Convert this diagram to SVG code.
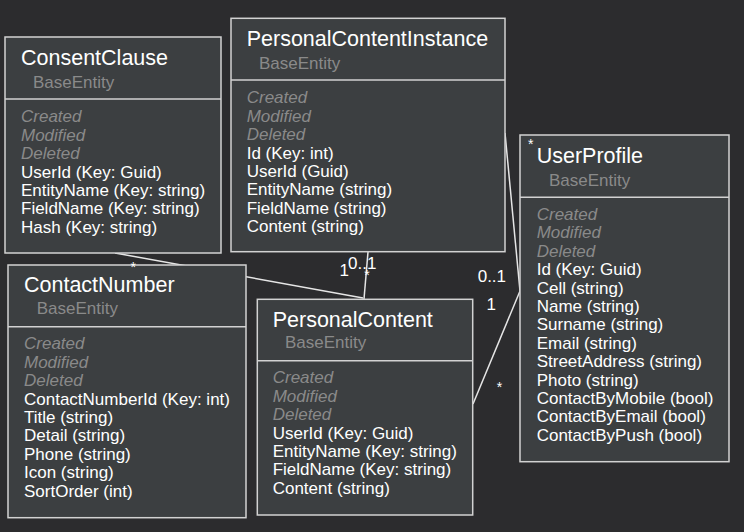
<svg xmlns="http://www.w3.org/2000/svg" width="744" height="532" viewBox="0 0 744 532">
<style>
.bg{fill:#2c2c2e}
.box{fill:#3c3f41;stroke:#d2d2d2;stroke-width:1.5}
.div{stroke:#d2d2d2;stroke-width:1.5}
text{font-family:"Liberation Sans",Arial,Helvetica,sans-serif}
.title{fill:#ffffff;font-size:21.5px}
.base{fill:#8a8a8a;font-size:17px}
.meta{fill:#8a8a8a;font-size:17px;font-style:italic}
.attr{fill:#ffffff;font-size:17px}
.lbl{fill:#ffffff;font-size:17px}
.star{fill:#ffffff;font-size:14px;text-anchor:middle}
.conn{stroke:#e6e6e6;stroke-width:1.5;fill:none}
</style>
<rect class="bg" x="0" y="0" width="744" height="532"/>

<g id="connectors">
<line class="conn" x1="115" y1="253" x2="363" y2="298"/>
<line class="conn" x1="368" y1="252" x2="364" y2="299"/>
<line class="conn" x1="505" y1="133" x2="520" y2="291"/>
<line class="conn" x1="520" y1="291" x2="473" y2="404"/>
</g>

<g id="ConsentClause">
<rect class="box" x="5" y="37" width="216" height="216"/>
<line class="div" x1="5" y1="99" x2="221" y2="99"/>
<text class="title" x="21" y="65">ConsentClause</text>
<text class="base" x="33" y="88">BaseEntity</text>
<text class="meta" x="21" y="122.3">Created</text>
<text class="meta" x="21" y="140.7">Modified</text>
<text class="meta" x="21" y="159.1">Deleted</text>
<text class="attr" x="21" y="177.5">UserId (Key: Guid)</text>
<text class="attr" x="21" y="195.9">EntityName (Key: string)</text>
<text class="attr" x="21" y="214.3">FieldName (Key: string)</text>
<text class="attr" x="21" y="232.7">Hash (Key: string)</text>
</g>

<g id="PersonalContentInstance">
<rect class="box" x="231" y="18.3" width="274" height="233.4"/>
<line class="div" x1="231" y1="80" x2="505" y2="80"/>
<text class="title" x="246.7" y="45.7">PersonalContentInstance</text>
<text class="base" x="259" y="69">BaseEntity</text>
<text class="meta" x="246.7" y="103.3">Created</text>
<text class="meta" x="246.7" y="121.7">Modified</text>
<text class="meta" x="246.7" y="140.1">Deleted</text>
<text class="attr" x="246.7" y="158.5">Id (Key: int)</text>
<text class="attr" x="246.7" y="176.9">UserId (Guid)</text>
<text class="attr" x="246.7" y="195.3">EntityName (string)</text>
<text class="attr" x="246.7" y="213.7">FieldName (string)</text>
<text class="attr" x="246.7" y="232.1">Content (string)</text>
</g>

<g id="UserProfile">
<rect class="box" x="520" y="135" width="209" height="326.7"/>
<line class="div" x1="520" y1="197.3" x2="729" y2="197.3"/>
<text class="title" x="536.7" y="163.3">UserProfile</text>
<text class="base" x="549" y="185.7">BaseEntity</text>
<text class="meta" x="536.7" y="220">Created</text>
<text class="meta" x="536.7" y="238.4">Modified</text>
<text class="meta" x="536.7" y="256.8">Deleted</text>
<text class="attr" x="536.7" y="275.2">Id (Key: Guid)</text>
<text class="attr" x="536.7" y="293.6">Cell (string)</text>
<text class="attr" x="536.7" y="312">Name (string)</text>
<text class="attr" x="536.7" y="330.4">Surname (string)</text>
<text class="attr" x="536.7" y="348.8">Email (string)</text>
<text class="attr" x="536.7" y="367.2">StreetAddress (string)</text>
<text class="attr" x="536.7" y="385.6">Photo (string)</text>
<text class="attr" x="536.7" y="404">ContactByMobile (bool)</text>
<text class="attr" x="536.7" y="422.4">ContactByEmail (bool)</text>
<text class="attr" x="536.7" y="440.8">ContactByPush (bool)</text>
</g>

<g id="ContactNumber">
<rect class="box" x="8" y="265" width="238" height="252.7"/>
<line class="div" x1="8" y1="326.7" x2="246" y2="326.7"/>
<text class="title" x="24" y="291.7">ContactNumber</text>
<text class="base" x="36.7" y="314">BaseEntity</text>
<text class="meta" x="24" y="349.3">Created</text>
<text class="meta" x="24" y="367.7">Modified</text>
<text class="meta" x="24" y="386.1">Deleted</text>
<text class="attr" x="24" y="404.5">ContactNumberId (Key: int)</text>
<text class="attr" x="24" y="422.9">Title (string)</text>
<text class="attr" x="24" y="441.3">Detail (string)</text>
<text class="attr" x="24" y="459.7">Phone (string)</text>
<text class="attr" x="24" y="478.1">Icon (string)</text>
<text class="attr" x="24" y="496.5">SortOrder (int)</text>
</g>

<g id="PersonalContent">
<rect class="box" x="257.3" y="299.3" width="215.4" height="215.7"/>
<line class="div" x1="257.3" y1="360.7" x2="472.7" y2="360.7"/>
<text class="title" x="272.7" y="327.3">PersonalContent</text>
<text class="base" x="285" y="348.3">BaseEntity</text>
<text class="meta" x="272.7" y="383.3">Created</text>
<text class="meta" x="272.7" y="401.7">Modified</text>
<text class="meta" x="272.7" y="420.1">Deleted</text>
<text class="attr" x="272.7" y="438.5">UserId (Key: Guid)</text>
<text class="attr" x="272.7" y="456.9">EntityName (Key: string)</text>
<text class="attr" x="272.7" y="475.3">FieldName (Key: string)</text>
<text class="attr" x="272.7" y="493.7">Content (string)</text>
</g>

<g id="labels">
<text class="star" x="133.3" y="271.5">*</text>
<text class="lbl" x="339.5" y="275.7">1</text>
<text class="lbl" x="348" y="269">0..1</text>
<text class="star" x="367" y="279.5">*</text>
<text class="star" x="530.7" y="148.5">*</text>
<text class="lbl" x="477.7" y="281.7">0..1</text>
<text class="lbl" x="486.5" y="310">1</text>
<text class="star" x="499.5" y="391.5">*</text>
</g>
</svg>
